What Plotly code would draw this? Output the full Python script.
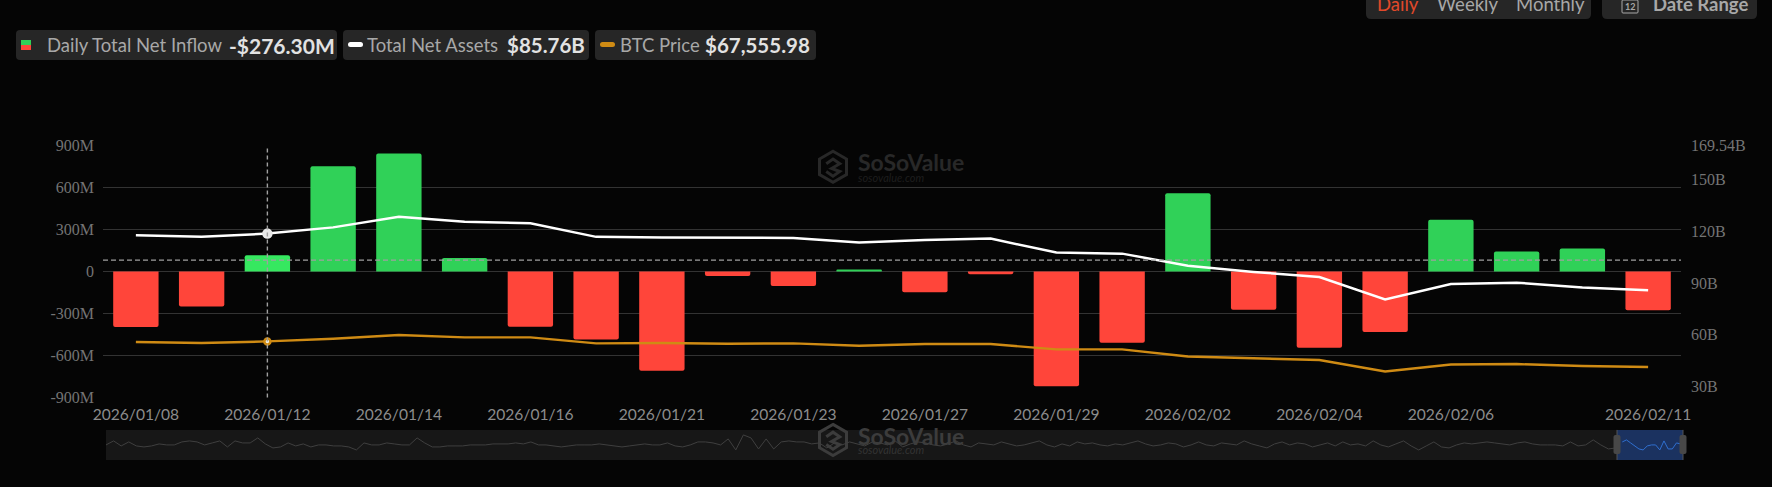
# SoSoValue style ETF flow chart: daily net inflow, net assets, BTC price
import numpy as np
import plotly.graph_objects as go

# ============================================
# DATA
# ============================================
dates = ['2026/01/08', '2026/01/09', '2026/01/12', '2026/01/13', '2026/01/14', '2026/01/15',
         '2026/01/16', '2026/01/20', '2026/01/21', '2026/01/22', '2026/01/23', '2026/01/26',
         '2026/01/27', '2026/01/28', '2026/01/29', '2026/01/30', '2026/02/02', '2026/02/03',
         '2026/02/04', '2026/02/05', '2026/02/06', '2026/02/09', '2026/02/10', '2026/02/11']

net_inflow = [-396, -250, 117, 753, 843, 97, -394, -485, -709, -31, -103, 8,
              -148, -19, -819, -508, 560, -272, -544, -432, 370, 144, 165, -276.3]

net_assets = [117.6, 116.8, 118.6, 122.2, 128.3, 125.4, 124.6, 116.7, 116.4, 116.1, 116.1, 113.4,
              114.9, 115.7, 107.6, 107.0, 100.0, 96.4, 93.5, 80.5, 89.4, 90.2, 87.4, 85.76]

btc_price = [90700, 89780, 91260, 93760, 97190, 94970, 94970, 89410, 89780, 89130, 89410, 87280,
             88850, 88850, 83850, 83850, 77370, 75890, 74040, 63480, 69960, 70330, 68480, 67555.98]

x_ticks = ['2026/01/08', '2026/01/12', '2026/01/14', '2026/01/16', '2026/01/21', '2026/01/23',
           '2026/01/27', '2026/01/29', '2026/02/02', '2026/02/04', '2026/02/06', '2026/02/11']
left_ticks = [-900, -600, -300, 0, 300, 600, 900]
left_labels = ['-900M', '-600M', '-300M', '0', '300M', '600M', '900M']
right_ticks = [30, 60, 90, 120, 150, 169.54]
right_labels = ['30B', '60B', '90B', '120B', '150B', '169.54B']

overview_hist = [15, 19, 14, 18, 14, 13, 14, 16, 15, 15, 18, 19, 18, 15, 17, 19, 13, 19, 17, 17,
                 22, 16, 12, 13, 17, 14, 16, 13, 15, 15, 14, 14, 13, 10, 17, 15, 15, 17, 16, 15,
                 15, 22, 17, 13, 13, 14, 14, 14, 15, 15, 15, 16, 16, 16, 17, 16, 18, 15, 15, 14,
                 13, 14, 15, 15, 15, 16, 15, 14, 13, 14, 15, 16, 15, 15, 17, 14, 13, 15, 18, 18,
                 17, 15, 21, 10, 25, 22, 11, 21, 11, 18, 19, 18, 18, 16, 17, 12, 17, 15, 18, 16,
                 14, 18, 17, 15, 19, 13, 16, 18, 17, 15, 14, 16, 19, 15, 13, 17, 16, 15, 18, 16,
                 14, 15, 17, 19, 15, 13, 16, 14, 18, 16, 17, 15, 14, 16, 15, 17, 19, 16, 14, 15,
                 17, 16, 13, 15, 18, 15, 14, 17, 16, 15, 19, 16, 14, 12, 16, 18, 15, 17, 16, 13,
                 15, 17, 14, 18, 15, 16, 14, 19, 15, 13, 16, 19, 14, 10, 14, 18, 13, 12, 15, 17,
                 16, 17, 18, 17, 16, 15, 17, 18, 16, 15, 15, 15, 14, 18, 14, 15, 20, 15, 11, 12]
overview_recent = [18, 20, 17, 14, 11, 10, 14, 15, 15, 10, 19, 11, 11, 17, 16]

# ============================================
# COLORS
# ============================================
colors = {
    'bg': '#050505',
    'chip': '#262626',
    'grid': '#333333',
    'green': '#30d158',
    'green_hover': '#36e860',
    'red': '#ff453a',
    'white': '#ffffff',
    'orange': '#cf8b14',
    'tick': '#747474',
    'xtick': '#8c8c8c',
    'label': '#a8a8a8',
    'value': '#e2e2e2',
    'active': '#e0492a',
    'cross': '#a0a0a0',
    'mark': '#282828',
    'band': '#171717',
    'band_sel': '#1b3260',
    'blue': '#2f6fd0',
}

W, H = 1772, 487
# paper box comes out a few px inside the figure on every side
INSET_X = 10
INSET_Y = 9


def fx(px):
    return (px - INSET_X) / (W - 2 * INSET_X)


def fy(py):
    return 1 - (py - INSET_Y) / (H - 2 * INSET_Y)


def rrect(x0, y0, x1, y1, r, fill, line=None):
    # rounded box in page pixels
    path = (f'M {fx(x0 + r)} {fy(y0)} L {fx(x1 - r)} {fy(y0)} Q {fx(x1)} {fy(y0)} {fx(x1)} {fy(y0 + r)} '
            f'L {fx(x1)} {fy(y1 - r)} Q {fx(x1)} {fy(y1)} {fx(x1 - r)} {fy(y1)} '
            f'L {fx(x0 + r)} {fy(y1)} Q {fx(x0)} {fy(y1)} {fx(x0)} {fy(y1 - r)} '
            f'L {fx(x0)} {fy(y0 + r)} Q {fx(x0)} {fy(y0)} {fx(x0 + r)} {fy(y0)} Z')
    return dict(type='path', path=path, xref='paper', yref='paper', fillcolor=fill,
                line=dict(width=1 if line else 0, color=line or fill), layer='below')


def label(x, y, text, size, color, bold=False, family='Lato', anchor='left', italic=False):
    if bold:
        text = f'<b>{text}</b>'
    if italic:
        text = f'<i>{text}</i>'
    return dict(x=fx(x), y=fy(y), xref='paper', yref='paper', text=text, showarrow=False,
                xanchor=anchor, yanchor='middle', borderpad=0,
                font=dict(size=size, color=color, family=family))


def hexagon(cx, cy, rx, ry, color, width):
    pts = [(cx, cy - ry), (cx + rx, cy - ry / 2), (cx + rx, cy + ry / 2),
           (cx, cy + ry), (cx - rx, cy + ry / 2), (cx - rx, cy - ry / 2)]
    path = 'M ' + ' L '.join(f'{fx(a)} {fy(b)}' for a, b in pts) + ' Z'
    inner = (f'M {fx(cx - rx * 0.5)} {fy(cy - ry * 0.2)} L {fx(cx)} {fy(cy - ry * 0.5)} '
             f'L {fx(cx + rx * 0.5)} {fy(cy - ry * 0.2)} L {fx(cx - rx * 0.1)} {fy(cy + ry * 0.1)} '
             f'L {fx(cx + rx * 0.5)} {fy(cy + ry * 0.3)} L {fx(cx)} {fy(cy + ry * 0.6)} '
             f'L {fx(cx - rx * 0.5)} {fy(cy + ry * 0.3)}')
    return [dict(type='path', path=p, xref='paper', yref='paper',
                 line=dict(color=color, width=width), layer='below') for p in (path, inner)]


# ============================================
# FIGURE
# ============================================
fig = go.Figure()

bar_colors = [colors['green'] if v >= 0 else colors['red'] for v in net_inflow]
bar_colors[dates.index('2026/01/12')] = colors['green_hover']

fig.add_trace(go.Bar(x=dates, y=net_inflow, marker=dict(color=bar_colors, cornerradius=2, line_width=0),
                     width=0.69, xaxis='x', yaxis='y'))
fig.add_trace(go.Scatter(x=dates, y=net_assets, mode='lines', xaxis='x', yaxis='y2',
                         line=dict(color=colors['white'], width=2.5)))
fig.add_trace(go.Scatter(x=dates, y=btc_price, mode='lines', xaxis='x', yaxis='y3',
                         line=dict(color=colors['orange'], width=2.4)))

# hovered day
hover_i = dates.index('2026/01/12')
fig.add_trace(go.Scatter(x=[dates[hover_i]], y=[net_assets[hover_i]], mode='markers', xaxis='x', yaxis='y2',
                         marker=dict(size=10.5, color='#e8e8e8', line=dict(width=0))))
fig.add_trace(go.Scatter(x=[dates[hover_i]], y=[btc_price[hover_i]], mode='markers', xaxis='x', yaxis='y3',
                         marker=dict(size=6, color='#f4f0e0', line=dict(width=2.5, color=colors['orange']))))

# overview strip
fig.add_trace(go.Scatter(x=np.linspace(0, 0.9575, len(overview_hist)), y=overview_hist, mode='lines',
                         xaxis='x2', yaxis='y4', line=dict(color='#3f3f3f', width=1)))
fig.add_trace(go.Scatter(x=np.linspace(0.9615, 0.9985, len(overview_recent)), y=overview_recent, mode='lines',
                         xaxis='x2', yaxis='y4', line=dict(color=colors['blue'], width=1)))

# ============================================
# SHAPES + TEXT
# ============================================
shapes = [
    # header chips
    rrect(16, 31, 337, 61, 4, colors['chip']),
    rrect(343, 31, 589, 61, 4, colors['chip']),
    rrect(595, 31, 816, 61, 4, colors['chip']),
    rrect(1366, -10, 1591, 20, 5, colors['chip']),
    rrect(1602, -10, 1757, 20, 5, colors['chip']),
    # legend icons
    rrect(21, 41, 31, 46, 0, colors['green']),
    rrect(21, 46, 31, 51, 0, colors['red']),
    rrect(348, 43, 363, 48, 2.5, colors['white']),
    rrect(600, 43, 615, 48, 2.5, colors['orange']),
    # calendar icon
    rrect(1622, 1, 1638, 14, 1, colors['chip'], '#a8a8a8'),
    # overview band
    rrect(106, 430, 1617, 460, 0, colors['band']),
    rrect(1617, 430, 1683, 460, 0, colors['band_sel']),
    # crosshair
    dict(type='line', xref='x', yref='paper', x0=dates[hover_i], x1=dates[hover_i], y0=fy(397.7), y1=fy(146.3),
         line=dict(color=colors['cross'], width=1.4, dash='4px,3px'), layer='above'),
    dict(type='line', xref='paper', yref='y', x0=fx(103), x1=fx(1681), y0=82, y1=82,
         line=dict(color=colors['cross'], width=1.4, dash='5px,3px'), layer='above'),
    # overview handles
    dict(type='line', xref='paper', yref='paper', x0=fx(1617), x1=fx(1617), y0=fy(430), y1=fy(460),
         line=dict(color='#555555', width=1), layer='above'),
    dict(type='line', xref='paper', yref='paper', x0=fx(1683), x1=fx(1683), y0=fy(430), y1=fy(460),
         line=dict(color='#555555', width=1), layer='above'),
]
for hx in (1617, 1683):
    handle = rrect(hx - 3.5, 435, hx + 3.5, 454, 2, '#484848')
    handle['layer'] = 'above'
    shapes.append(handle)

shapes += hexagon(833, 167.5, 13.5, 15.5, colors['mark'], 3)
shapes += hexagon(833, 440, 13.5, 15.5, '#3c3c3c', 3)

annotations = [
    label(46, 46, 'Daily Total Net Inflow', 18.5, colors['label']),
    label(228, 46, '-$276.30M', 21, colors['value'], bold=True),
    label(366, 46, 'Total Net Assets', 18.5, colors['label']),
    label(506, 46, '$85.76B', 20.5, colors['value'], bold=True),
    label(619, 46, 'BTC Price', 18.5, colors['label']),
    label(704, 46, '$67,555.98', 20.5, colors['value'], bold=True),
    label(1376, 5, 'Daily', 18.5, colors['active']),
    label(1436, 5, 'Weekly', 18.5, colors['label']),
    label(1515, 5, 'Monthly', 18.5, colors['label']),
    label(1652, 5, 'Date Range', 18.5, colors['label'], bold=True),
    label(1630, 8, '12', 9, colors['label'], bold=True, anchor='center'),
    # watermarks
    label(857, 163, 'SoSoValue', 23, colors['mark'], bold=True),
    label(857, 178, 'sosovalue.com', 11, '#1e1e1e', italic=True),
    label(857, 436, 'SoSoValue', 23, '#3c3c3c', bold=True),
    label(857, 450, 'sosovalue.com', 11, '#333333', italic=True),
]

# ============================================
# LAYOUT
# ============================================
fig.update_layout(
    width=W, height=H,
    margin=dict(l=0, r=0, t=0, b=0),
    paper_bgcolor=colors['bg'],
    plot_bgcolor=colors['bg'],
    showlegend=False,
    hovermode=False,
    shapes=shapes,
    annotations=annotations,
    xaxis=dict(
        domain=[fx(103), fx(1681)], type='category', categoryorder='array', categoryarray=dates,
        range=[-0.5, 23.5], tickmode='array', tickvals=x_ticks, ticktext=x_ticks,
        tickfont=dict(family='Lato', size=15.6, color=colors['xtick']),
        showgrid=False, zeroline=False, showline=False, ticks='', ticklabelstandoff=6,
        anchor='y',
    ),
    yaxis=dict(
        domain=[fy(397.7), fy(146.3)], range=[-900, 900], tickmode='array',
        tickvals=left_ticks, ticktext=left_labels,
        tickfont=dict(family='Liberation Serif', size=16, color=colors['tick']),
        gridcolor=colors['grid'], gridwidth=1.3, zeroline=True, zerolinecolor=colors['grid'],
        zerolinewidth=1.3, showline=False, ticks='', ticklabelstandoff=8,
    ),
    yaxis2=dict(
        domain=[fy(397.7), fy(146.3)], range=[23.7, 169.54], overlaying='y', side='right', anchor='x',
        tickmode='array', tickvals=right_ticks, ticktext=right_labels,
        tickfont=dict(family='Liberation Serif', size=16, color=colors['tick']),
        showgrid=False, zeroline=False, showline=False, ticks='', ticklabelstandoff=9,
    ),
    yaxis3=dict(
        domain=[fy(397.7), fy(146.3)], range=[39400, 272200], overlaying='y', anchor='x', visible=False,
    ),
    xaxis2=dict(domain=[fx(106), fx(1683)], range=[0, 1], visible=False, anchor='y4'),
    yaxis4=dict(domain=[fy(460), fy(430)], range=[0, 30], visible=False, anchor='x2'),
)

fig.write_html("out.html", config=dict(displayModeBar=False),
               post_script="document.body.style.margin='0';document.body.style.overflow='hidden';")
